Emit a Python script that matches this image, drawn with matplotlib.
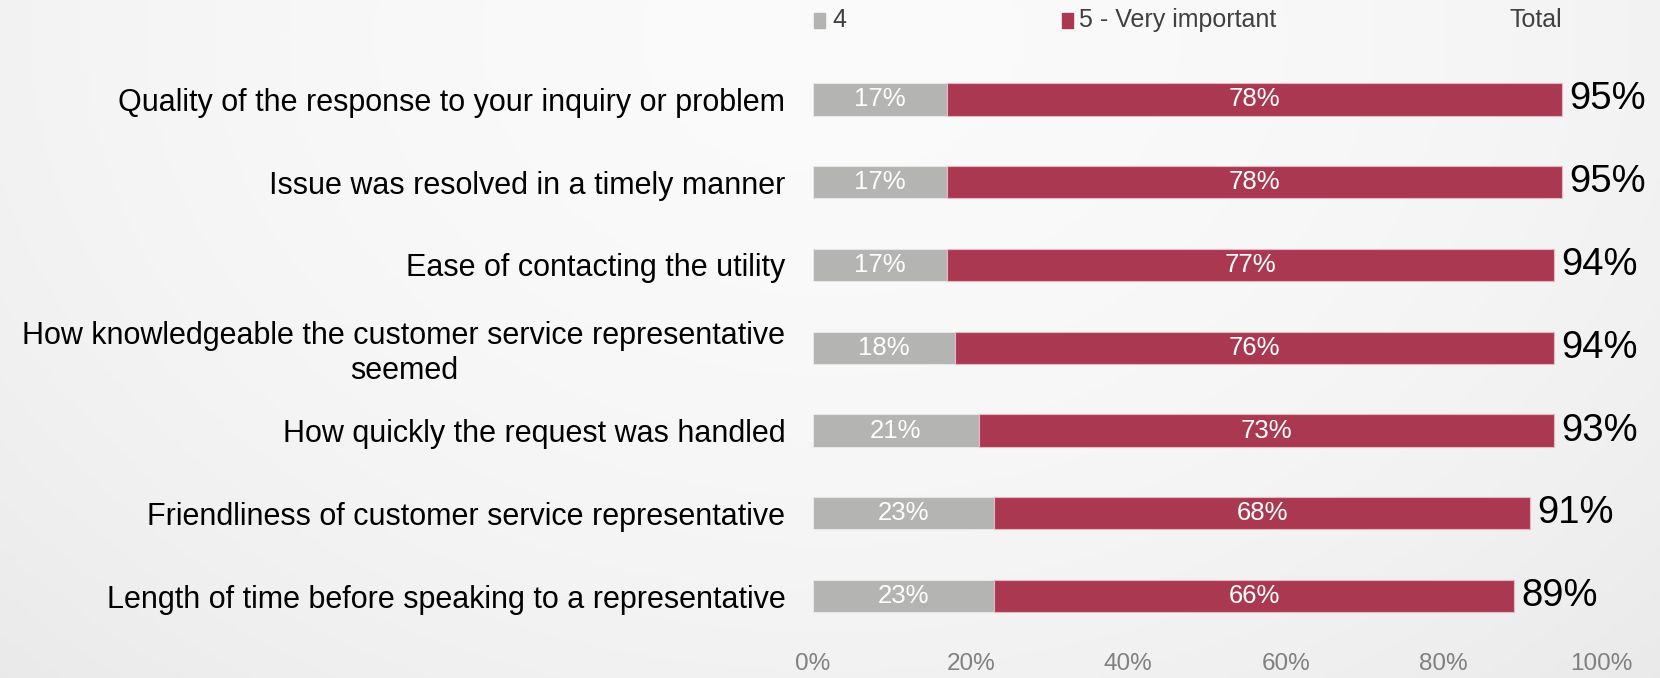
import numpy as np
import matplotlib
matplotlib.use("Agg")
import matplotlib.pyplot as plt
from matplotlib.patches import Rectangle

categories = [
    "Quality of the response to your inquiry or problem",
    "Issue was resolved in a timely manner",
    "Ease of contacting the utility",
    "How knowledgeable the customer service representative\nseemed",
    "How quickly the request was handled",
    "Friendliness of customer service representative",
    "Length of time before speaking to a representative",
]
four = [17, 17, 17, 18, 21, 23, 23]
five = [78, 78, 77, 76, 73, 68, 66]
total = [95, 95, 94, 94, 93, 91, 89]
xticks = [0, 20, 40, 60, 80, 100]
legend_labels = ["4", "5 - Very important", "Total"]

GRAY = "#b4b4b2"
RED = "#aa3850"
SANS = ["Liberation Sans", "DejaVu Sans"]

fig = plt.figure(figsize=(16.6, 6.78), dpi=100)

# background radial gradient
bg = fig.add_axes([0, 0, 1, 1], zorder=-10)
yy, xx = np.mgrid[0:1:200j, 0:1:400j]
r = np.sqrt(((xx - 0.5) / 0.6) ** 2 + ((yy - 0.05) / 1.1) ** 2)
val = 0.982 - 0.045 * np.clip(r, 0, 1.2) ** 2
bg.imshow(np.dstack([val, val, val]), aspect="auto", extent=[0, 1, 0, 1], origin="upper")
bg.axis("off")

ax = fig.add_axes([0.4898, 0.0597, 0.4747, 0.8548])
ax.set_facecolor("none")
y = np.arange(len(categories))
h = 0.39
ax.barh(y, four, height=h, color=GRAY, edgecolor="#e6e6e6", linewidth=0.8)
ax.barh(y, five, left=four, height=h, color=RED, edgecolor="#e8b8c2", linewidth=0.8)

for i in range(len(categories)):
    ax.text(four[i] / 2, y[i], f"{four[i]}%", ha="center", va="center",
            color="white", fontsize=18.5, family=SANS)
    ax.text(four[i] + five[i] / 2, y[i], f"{five[i]}%", ha="center", va="center",
            color="white", fontsize=18.5, family=SANS)
    ax.text(four[i] + five[i] + 0.9, y[i], f"{total[i]}%", ha="left", va="center",
            color="black", fontsize=27.5, family=SANS)

ax.set_xlim(0, 100)
ax.set_ylim(len(categories) - 0.5, -0.5)
ax.set_xticks(xticks)
ax.set_xticklabels([f"{t}%" for t in xticks], color="#808080", fontsize=17.5, family=SANS)
ax.set_yticks(y)
ax.set_yticklabels(categories, fontsize=22, family=SANS, color="black",
                   multialignment="center")
ax.tick_params(axis="x", length=0, pad=11)
ax.tick_params(axis="y", length=0, pad=20)
for s in ax.spines.values():
    s.set_visible(False)

# legend
fy = 0.970
fig.patches.append(Rectangle((814 / 1660, fy - 0.011), 11 / 1660, 15 / 678,
                             transform=fig.transFigure, color=GRAY, figure=fig))
fig.text(832 / 1660, fy, legend_labels[0], ha="left", va="center", fontsize=18,
         family=SANS, color="#404040")
fig.patches.append(Rectangle((1062 / 1660, fy - 0.011), 11 / 1660, 15 / 678,
                             transform=fig.transFigure, color=RED, figure=fig))
fig.text(1079 / 1660, fy, legend_labels[1], ha="left", va="center", fontsize=18,
         family=SANS, color="#404040")
fig.text(1509 / 1660, fy, legend_labels[2], ha="left", va="center", fontsize=18,
         family=SANS, color="#404040")

fig.savefig("out.png", dpi=100)
